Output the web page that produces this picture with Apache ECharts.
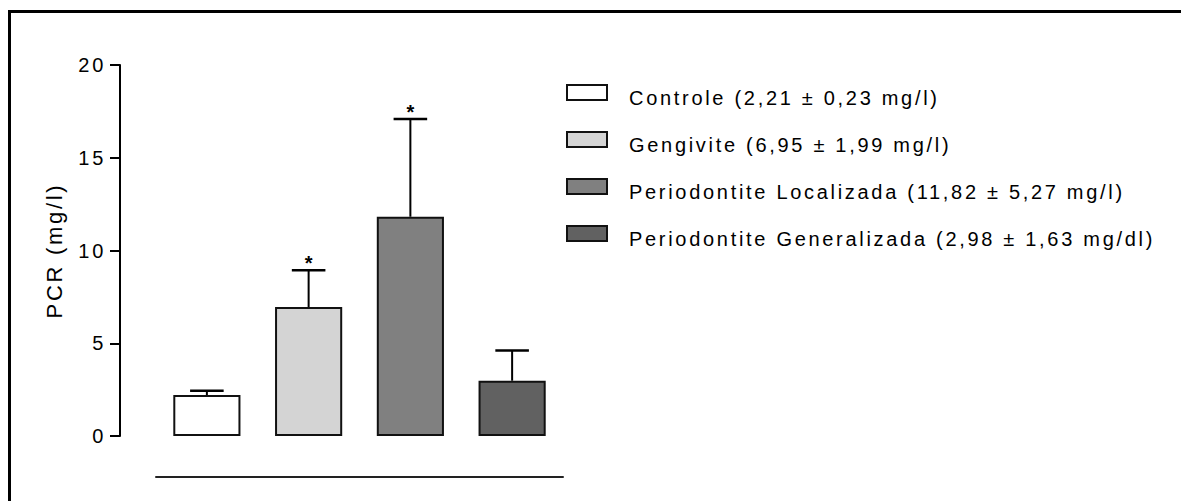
<!DOCTYPE html>
<html>
<head>
<meta charset="utf-8">
<script src="https://cdn.jsdelivr.net/npm/echarts@6/dist/echarts.min.js"></script>
<style>
  html, body { margin: 0; padding: 0; background: #fff; }
  #chart { width: 1181px; height: 501px; }
  #chart text { letter-spacing: 2.7px; }
</style>
</head>
<body>
<div id="chart"></div>
<script>
const categories = ['Controle', 'Gengivite', 'Periodontite Localizada', 'Periodontite Generalizada'];
const means = [2.21, 6.95, 11.82, 2.98];
const sds = [0.23, 1.99, 5.27, 1.63];
const units = ['mg/l', 'mg/l', 'mg/l', 'mg/dl'];
const significance = ['', '*', '*', ''];
const fillColors = ['#ffffff', '#d4d4d4', '#808080', '#616161'];
const yMin = 0, yMax = 20, yInterval = 5;
const yName = 'PCR (mg/l)';

const fmt = v => v.toFixed(2).replace('.', ',');
const legendNames = categories.map((c, i) => `${c} (${fmt(means[i])} ± ${fmt(sds[i])} ${units[i]})`);
const FONT = "'Liberation Sans', Arial, sans-serif";

const chart = echarts.init(document.getElementById('chart'), null, { renderer: 'svg' });

const barSeries = categories.map((c, i) => ({
  type: 'bar',
  name: legendNames[i],
  stack: 'grp',
  barWidth: '66%',
  data: categories.map((_, j) => (j === i ? means[i] : '-')),
  itemStyle: { color: fillColors[i], borderColor: '#111', borderWidth: 2 },
  emphasis: { disabled: true },
  silent: true
}));

const errSeries = {
  type: 'custom',
  name: 'err',
  silent: true,
  z: 10,
  encode: { x: 0, y: 1 },
  data: means.map((m, i) => [i, m, sds[i]]),
  renderItem: function (params, api) {
    const i = api.value(0), m = api.value(1), s = api.value(2);
    const base = api.coord([i, m]);
    const top = api.coord([i, m + s]);
    const hw = api.size([1, 0])[0] * 0.165;
    const children = [
      { type: 'line', shape: { x1: base[0], y1: base[1], x2: top[0], y2: top[1] },
        style: { stroke: '#000', lineWidth: 2 } },
      { type: 'line', shape: { x1: top[0] - hw, y1: top[1], x2: top[0] + hw, y2: top[1] },
        style: { stroke: '#000', lineWidth: 2.5 } }
    ];
    if (significance[i]) {
      children.push({ type: 'text', style: {
        text: significance[i], x: top[0] + 1.4, y: top[1] + 3,
        textAlign: 'center', textVerticalAlign: 'bottom',
        font: 'bold 20px ' + FONT, fill: '#000' } });
    }
    return { type: 'group', children: children };
  }
};

chart.setOption({
  animation: false,
  textStyle: { fontFamily: FONT, color: '#000' },
  grid: { left: 156, right: 618, top: 65, bottom: 65 },
  graphic: [{
    type: 'polyline', silent: true,
    shape: { points: [[9.5, 501], [9.5, 11.5], [1181, 11.5]] },
    style: { stroke: '#000', lineWidth: 3, fill: null }
  }],
  legend: {
    orient: 'vertical', left: 566, top: 82, padding: 0,
    itemWidth: 40, itemHeight: 15, itemGap: 21.5, icon: 'rect',
    selectedMode: false,
    data: legendNames,
    formatter: n => '{s| }\n{t|' + n + '}',
    textStyle: {
      fontSize: 20, color: '#000', fontFamily: FONT, padding: [0, 0, 0, 17],
      rich: {
        s: { fontSize: 1, lineHeight: 10 },
        t: { fontSize: 20, lineHeight: 20, color: '#000', fontFamily: FONT }
      }
    }
  },
  xAxis: {
    type: 'category', data: categories, offset: 41,
    axisLine: { show: true, onZero: false, lineStyle: { color: '#222', width: 2 } },
    axisTick: { show: false }, axisLabel: { show: false }, splitLine: { show: false }
  },
  yAxis: {
    type: 'value', min: yMin, max: yMax, interval: yInterval, offset: 36,
    name: yName, nameLocation: 'middle', nameGap: 55,
    nameTextStyle: { fontSize: 22, color: '#000', fontFamily: FONT },
    axisLine: { show: true, lineStyle: { color: '#000', width: 2 } },
    axisTick: { show: true, length: 10, lineStyle: { color: '#000', width: 2 } },
    axisLabel: { margin: 14, fontSize: 20, color: '#000', fontFamily: FONT },
    splitLine: { show: false }
  },
  series: barSeries.concat([errSeries])
});
</script>
</body>
</html>
